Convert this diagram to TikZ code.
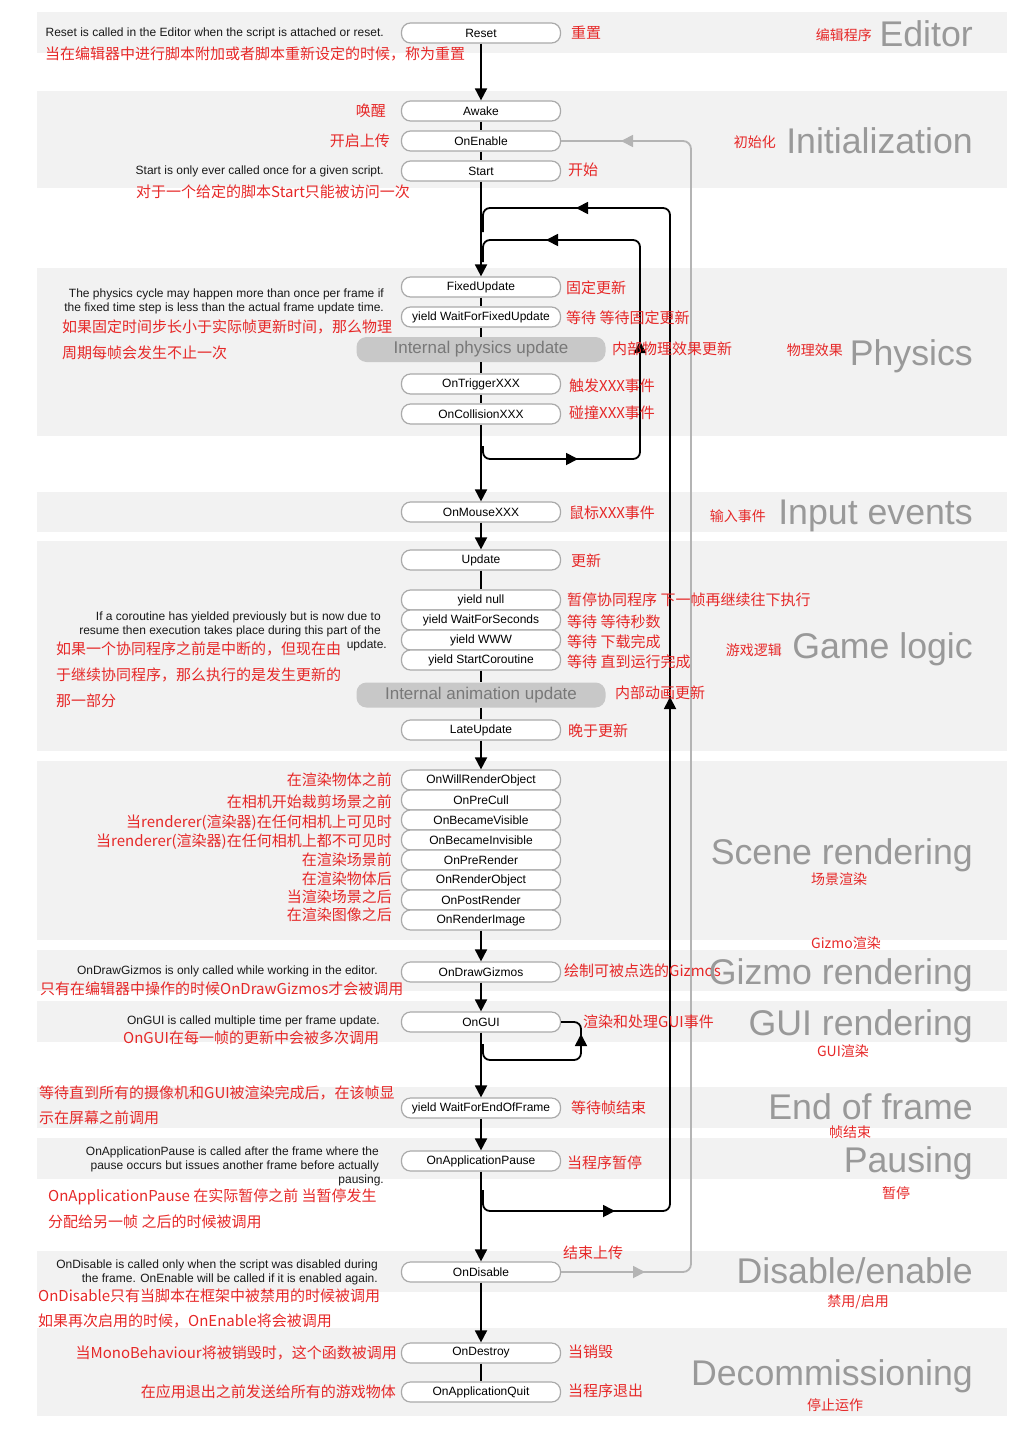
\documentclass[tikz,border=0pt]{standalone}
\usepackage{fontspec}
\setmainfont{Liberation Sans}
\newfontfamily\cjk{Noto Sans CJK SC}
\usetikzlibrary{arrows.meta}
\definecolor{bandfill}{RGB}{242,242,242}
\definecolor{boxline}{RGB}{170,170,170}
\definecolor{redtxt}{RGB}{230,40,40}
\definecolor{bigtxt}{RGB}{153,153,153}
\definecolor{intfill}{RGB}{200,200,200}
\definecolor{inttxt}{RGB}{120,120,120}
\definecolor{loopgray}{RGB}{180,180,180}
\begin{document}
\begin{tikzpicture}[x=1pt,y=-1pt,
 band/.style={fill=bandfill,draw=none},
 fn/.style={draw=boxline,line width=1.2pt,fill=white,rounded corners=9pt,minimum width=159pt,minimum height=20pt,inner sep=0pt,font=\fontsize{12}{12}\selectfont},
 intbox/.style={fill=intfill,draw=none,rounded corners=10pt,minimum width=249pt,minimum height=25pt,inner sep=0pt,text=inttxt,font=\fontsize{17}{17}\selectfont},
 note/.style={inner sep=0pt,font=\fontsize{12}{14}\selectfont,align=right,text=black!90,anchor=east},
 rednote/.style={inner sep=0pt,font=\cjk\fontsize{15}{15}\selectfont,text=redtxt},
 tag/.style={inner sep=0pt,font=\cjk\fontsize{14}{14}\selectfont,text=redtxt},
 big/.style={inner sep=0pt,font=\fontsize{35.7}{36}\selectfont,text=bigtxt,anchor=base east},
 flow/.style={line width=1.8pt,draw=black},
 arr/.style={flow,-{Triangle[length=12pt,width=12pt]}},
 tipb/.style={draw=black,line width=1.8pt,-{Triangle[length=12pt,width=12pt]}},
 grayline/.style={line width=1.8pt,draw=loopgray},
 tipg/.style={draw=loopgray,line width=1.8pt,-{Triangle[length=12pt,width=12pt]}}
]
\useasboundingbox (0,0) rectangle (1029,1437);
% bands
\fill[band] (37,12) rectangle (1007,53);
\fill[band] (37,91) rectangle (1007,188);
\fill[band] (37,268) rectangle (1007,436);
\fill[band] (37,492) rectangle (1007,532);
\fill[band] (37,541) rectangle (1007,751);
\fill[band] (37,761) rectangle (1007,940);
\fill[band] (37,950) rectangle (1007,991);
\fill[band] (37,1001) rectangle (1007,1042);
\fill[band] (37,1087) rectangle (1007,1128);
\fill[band] (37,1138) rectangle (1007,1179);
\fill[band] (37,1251) rectangle (1007,1292);
\fill[band] (37,1328) rectangle (1007,1416);

% boxes
\node[fn] (reset) at (481,33) {Reset};
\node[fn] (awake) at (481,111) {Awake};
\node[fn] (onenable) at (481,141) {OnEnable};
\node[fn] (start) at (481,171) {Start};
\node[fn] (fixedupdate) at (481,287) {FixedUpdate};
\node[fn] (waitfixed) at (481,317) {yield WaitForFixedUpdate};
\node[intbox] (physint) at (481,349.5) {Internal physics update};
\node[fn] (ontrigger) at (481,384) {OnTriggerXXX};
\node[fn] (oncollision) at (481,414) {OnCollisionXXX};
\node[fn] (onmouse) at (481,512) {OnMouseXXX};
\node[fn] (update) at (481,560) {Update};
\node[fn] (ynull) at (481,600) {yield null};
\node[fn] (ywait) at (481,620) {yield WaitForSeconds};
\node[fn] (ywww) at (481,640) {yield WWW};
\node[fn] (ycoroutine) at (481,660) {yield StartCoroutine};
\node[intbox] (animint) at (481,695) {Internal animation update};
\node[fn] (lateupdate) at (481,730) {LateUpdate};
\node[fn] (willrender) at (481,780) {OnWillRenderObject};
\node[fn] (precull) at (481,800) {OnPreCull};
\node[fn] (visible) at (481,820) {OnBecameVisible};
\node[fn] (invisible) at (481,840) {OnBecameInvisible};
\node[fn] (prerender) at (481,860) {OnPreRender};
\node[fn] (renderobj) at (481,880) {OnRenderObject};
\node[fn] (postrender) at (481,900) {OnPostRender};
\node[fn] (renderimage) at (481,920) {OnRenderImage};
\node[fn] (gizmos) at (481,972) {OnDrawGizmos};
\node[fn] (ongui) at (481,1022) {OnGUI};
\node[fn] (waitend) at (481,1108) {yield WaitForEndOfFrame};
\node[fn] (apppause) at (481,1161) {OnApplicationPause};
\node[fn] (ondisable) at (481,1272) {OnDisable};
\node[fn] (ondestroy) at (481,1353) {OnDestroy};
\node[fn] (appquit) at (481,1392) {OnApplicationQuit};

% main flow
\draw[arr] (reset) -- (awake);
\draw[flow] (awake) -- (onenable);
\draw[flow] (onenable) -- (start);
\draw[arr] (start) -- (fixedupdate);
\draw[flow] (fixedupdate) -- (waitfixed);
\draw[flow] (waitfixed) -- (physint);
\draw[flow] (physint) -- (ontrigger);
\draw[flow] (ontrigger) -- (oncollision);
\draw[arr] (oncollision) -- (onmouse);
\draw[arr] (onmouse) -- (update);
\draw[flow] (update) -- (ynull);
\draw[flow] (ycoroutine) -- (animint);
\draw[flow] (animint) -- (lateupdate);
\draw[arr] (lateupdate) -- (willrender);
\draw[arr] (renderimage) -- (gizmos);
\draw[arr] (gizmos) -- (ongui);
\draw[arr] (ongui) -- (waitend);
\draw[arr] (waitend) -- (apppause);
\draw[arr] (apppause) -- (ondisable);
\draw[arr] (ondisable) -- (ondestroy);
\draw[flow] (ondestroy) -- (appquit);

% frame loop
\coordinate (fa) at (483,1190);
\coordinate (fb) at (483,1211);
\coordinate (fc) at (670,1211);
\coordinate (fd) at (670,208);
\coordinate (fe) at (483,208);
\coordinate (ff) at (483,232);
\draw[flow,rounded corners=7pt] (fa) -- (fb) -- (fc) -- (fd) -- (fe) -- (ff);
\draw[tipb] (600,1211) -- (615,1211);
\draw[tipb] (670,711) -- (670,697);
\draw[tipb] (591,208) -- (576,208);

% physics loop
\coordinate (pa) at (483,446);
\coordinate (pb) at (483,459);
\coordinate (pc) at (640,459);
\coordinate (pd) at (640,240);
\coordinate (pe) at (483,240);
\coordinate (pf) at (483,262);
\draw[flow,rounded corners=7pt] (pa) -- (pb) -- (pc) -- (pd) -- (pe) -- (pf);
\draw[tipb] (563,459) -- (578,459);
\draw[tipb] (640,355) -- (640,341);
\draw[tipb] (561,240) -- (546,240);

% GUI loop
\coordinate (ga) at (483,1044);
\coordinate (gb) at (483,1060);
\coordinate (gc) at (581,1060);
\coordinate (gd) at (581,1022);
\draw[flow,rounded corners=7pt] (ga) -- (gb) -- (gc) -- (gd) -- (ongui.east);
\draw[tipb] (581,1048) -- (581,1034);

% enable/disable loop
\coordinate (ea) at (691,1272);
\coordinate (eb) at (691,141);
\draw[grayline,rounded corners=8pt] (ondisable.east) -- (ea) -- (eb) -- (onenable.east);
\draw[tipg] (630,1272) -- (645,1272);
\draw[tipg] (636,141) -- (621,141);

% black notes
\node[note] (n1) at (384,33) {Reset is called in the Editor when the script is attached or reset.};
\node[note] (n2) at (384,171) {Start is only ever called once for a given script.};
\node[note] (n3) at (384,301) {The physics cycle may happen more than once per frame if\\the fixed time step is less than the actual frame update time.};
\node[note] (n4) at (381,631) {If a coroutine has yielded previously but is now due to\\resume then execution takes place during this part of the\\update.\hspace*{-6pt}};
\node[note] (n5) at (378,971) {OnDrawGizmos is only called while working in the editor.};
\node[note] (n6) at (380,1021) {OnGUI is called multiple time per frame update.};
\node[note] (n7) at (379,1166) {OnApplicationPause is called after the frame where the\\pause occurs but issues another frame before actually\\pausing.\hspace*{-5pt}};
\node[note] (n8) at (378,1272) {OnDisable is called only when the script was disabled during\\the frame. OnEnable will be called if it is enabled again.};

% red notes
\node[rednote,anchor=west] (r1) at (45,54) {当在编辑器中进行脚本附加或者脚本重新设定的时候，称为重置};
\node[rednote,anchor=east] (r2) at (386,111) {唤醒};
\node[rednote,anchor=east] (r3) at (390,141) {开启上传};
\node[rednote,anchor=west] (r4) at (136,192) {对于一个给定的脚本Start只能被访问一次};
\node[rednote,anchor=west] (r5) at (571,33) {重置};
\node[rednote,anchor=west] (r6) at (568,170) {开始};
\node[rednote,anchor=west] (r7) at (62,327) {如果固定时间步长小于实际帧更新时间，那么物理};
\node[rednote,anchor=west] (r8) at (62,353) {周期每帧会发生不止一次};
\node[rednote,anchor=west] (r9) at (566,288) {固定更新};
\node[rednote,anchor=west] (r10) at (566,318) {等待 等待固定更新};
\node[rednote,anchor=west] (r11) at (612,349) {内部物理效果更新};
\node[rednote,anchor=west] (r12) at (569,386) {触发XXX事件};
\node[rednote,anchor=west] (r13) at (569,413) {碰撞XXX事件};
\node[rednote,anchor=west] (r14) at (569,513) {鼠标XXX事件};
\node[rednote,anchor=west] (r15) at (571,561) {更新};
\node[rednote,anchor=west] (r16) at (567,600) {暂停协同程序 下一帧再继续往下执行};
\node[rednote,anchor=west] (r17) at (567,622) {等待 等待秒数};
\node[rednote,anchor=west] (r18) at (567,642) {等待 下载完成};
\node[rednote,anchor=west] (r19) at (567,662) {等待 直到运行完成};
\node[rednote,anchor=west] (r20) at (615,693) {内部动画更新};
\node[rednote,anchor=west] (r21) at (568,731) {晚于更新};
\node[rednote,anchor=west] (r22) at (56,649) {如果一个协同程序之前是中断的，但现在由};
\node[rednote,anchor=west] (r23) at (56,675) {于继续协同程序，那么执行的是发生更新的};
\node[rednote,anchor=west] (r24) at (56,701) {那一部分};
\node[rednote,anchor=east] (s1) at (392,780) {在渲染物体之前};
\node[rednote,anchor=east] (s2) at (392,802) {在相机开始裁剪场景之前};
\node[rednote,anchor=east] (s3) at (392,823) {当renderer(渲染器)在任何相机上可见时};
\node[rednote,anchor=east] (s4) at (392,842) {当renderer(渲染器)在任何相机上都不可见时};
\node[rednote,anchor=east] (s5) at (392,860) {在渲染场景前};
\node[rednote,anchor=east] (s6) at (392,879) {在渲染物体后};
\node[rednote,anchor=east] (s7) at (392,897) {当渲染场景之后};
\node[rednote,anchor=east] (s8) at (392,915) {在渲染图像之后};
\node[rednote,anchor=west] (r25) at (40,989) {只有在编辑器中操作的时候OnDrawGizmos才会被调用};
\node[rednote,anchor=west] (r26) at (564,971) {绘制可被点选的Gizmos};
\node[rednote,anchor=west] (r27) at (123,1038) {OnGUI在每一帧的更新中会被多次调用};
\node[rednote,anchor=west] (r28) at (583,1022) {渲染和处理GUI事件};
\node[rednote,anchor=west] (r29) at (39,1093) {等待直到所有的摄像机和GUI被渲染完成后，在该帧显};
\node[rednote,anchor=west] (r30) at (39,1118) {示在屏幕之前调用};
\node[rednote,anchor=west] (r31) at (571,1108) {等待帧结束};
\node[rednote,anchor=west] (r32) at (48,1197) {OnApplicationPause 在实际暂停之前 当暂停发生};
\node[rednote,anchor=west] (r33) at (48,1222) {分配给另一帧 之后的时候被调用};
\node[rednote,anchor=west] (r34) at (567,1163) {当程序暂停};
\node[rednote,anchor=west] (r35) at (563,1253) {结束上传};
\node[rednote,anchor=west] (r36) at (38,1296) {OnDisable只有当脚本在框架中被禁用的时候被调用};
\node[rednote,anchor=west] (r37) at (38,1321) {如果再次启用的时候，OnEnable将会被调用};
\node[rednote,anchor=east] (r38) at (397,1353) {当MonoBehaviour将被销毁时，这个函数被调用};
\node[rednote,anchor=east] (r39) at (396,1392) {在应用退出之前发送给所有的游戏物体};
\node[rednote,anchor=west] (r40) at (568,1352) {当销毁};
\node[rednote,anchor=west] (r41) at (568,1391) {当程序退出};

% section tags
\node[tag,anchor=east] (t1) at (872,35) {编辑程序};
\node[tag,anchor=east] (t2) at (776,142) {初始化};
\node[tag,anchor=east] (t3) at (843,350) {物理效果};
\node[tag,anchor=east] (t4) at (766,516) {输入事件};
\node[tag,anchor=east] (t5) at (782,650) {游戏逻辑};
\node[tag] (t6) at (839,879) {场景渲染};
\node[tag] (t7) at (846,943) {Gizmo渲染};
\node[tag] (t8) at (843,1051) {GUI渲染};
\node[tag] (t9) at (850,1132) {帧结束};
\node[tag] (t10) at (896,1193) {暂停};
\node[tag] (t11) at (858,1302) {禁用/启用};
\node[tag] (t12) at (835,1405) {停止运作};

% section titles
\node[big] (b1) at (973,47) {Editor};
\node[big] (b2) at (973,153) {Initialization};
\node[big] (b3) at (973,365) {Physics};
\node[big] (b4) at (973,524) {Input events};
\node[big] (b5) at (973,658) {Game logic};
\node[big] (b6) at (973,864) {Scene rendering};
\node[big] (b7) at (973,984) {Gizmo rendering};
\node[big] (b8) at (973,1035) {GUI rendering};
\node[big] (b9) at (973,1119) {End of frame};
\node[big] (b10) at (973,1172) {Pausing};
\node[big] (b11) at (973,1283) {Disable/enable};
\node[big] (b12) at (973,1385) {Decommissioning};
\end{tikzpicture}
\end{document}
